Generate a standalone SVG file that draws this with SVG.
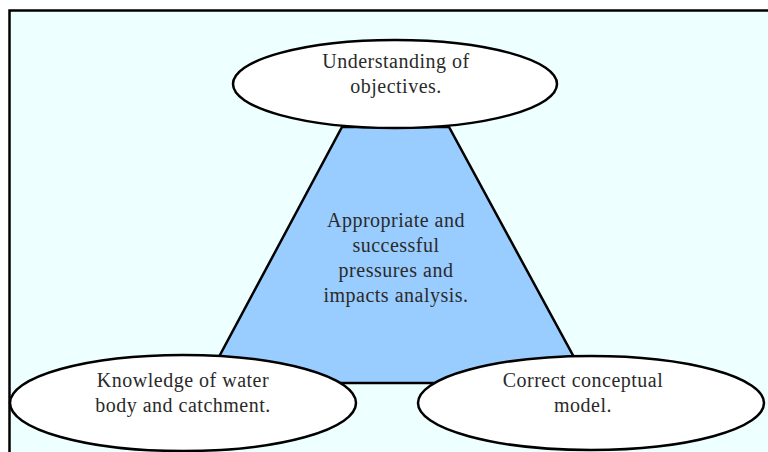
<svg xmlns="http://www.w3.org/2000/svg" width="768" height="452" viewBox="0 0 768 452">
<style>
.ell{fill:#ffffff;stroke:#000;stroke-width:2.5}
.t{font-family:"Liberation Serif","Times New Roman",serif;font-size:20px;fill:#2a2a2a;text-anchor:middle;letter-spacing:0.5px}
</style>
<rect x="0" y="0" width="768" height="452" fill="#ffffff"/>
<rect x="9.5" y="10.5" width="770" height="460" fill="#eeffff" stroke="#000" stroke-width="2.5"/>
<g id="connectors">
<polygon id="center-shape" points="342,127 449,127 588,383 205,383" fill="#99ccff" stroke="#000" stroke-width="2.5"/>
</g>
<g id="center">
<text class="t" x="396" y="227">Appropriate and</text>
<text class="t" x="396" y="252">successful</text>
<text class="t" x="396" y="277">pressures and</text>
<text class="t" x="396" y="302">impacts analysis.</text>
</g>
<g id="objectives">
<ellipse class="ell" cx="395" cy="84" rx="162" ry="44"/>
<text class="t" x="396" y="68">Understanding of</text>
<text class="t" x="396" y="93">objectives.</text>
</g>
<g id="knowledge">
<ellipse class="ell" cx="183" cy="403" rx="173" ry="48"/>
<text class="t" x="183" y="387">Knowledge of water</text>
<text class="t" x="183" y="412">body and catchment.</text>
</g>
<g id="model">
<ellipse class="ell" cx="591" cy="403" rx="173" ry="47"/>
<text class="t" x="583" y="387">Correct conceptual</text>
<text class="t" x="583" y="412">model.</text>
</g>
</svg>
